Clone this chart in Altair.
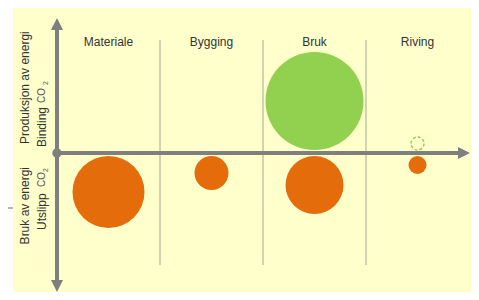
import altair as alt
import pandas as pd

# ---- data ----
kategorier = ["Materiale", "Bygging", "Bruk", "Riving"]
utslipp_radius = [36, 17, 29, 9]          # orange circles (CO2 emission), below axis
binding_kategorier = ["Bruk", "Riving"]
binding_radius = [49, 6.5]                 # green circles (CO2 binding), above axis
binding_stiplet = [False, True]            # Riving is dashed outline only

W, H = 463, 284
GRAY = "#7F7F7F"
ORANGE = "#E46C0A"
GREEN = "#92D050"
YELLOW = "#FFFFCC"
FONT = "Liberation Sans"

utslipp = pd.DataFrame({"kategori": kategorier, "r": utslipp_radius, "type": "Utslipp"})
binding = pd.DataFrame({"kategori": binding_kategorier, "r": binding_radius,
                        "stiplet": binding_stiplet, "type": "Binding"})
kat_df = pd.DataFrame({"kategori": kategorier, "idx": list(range(len(kategorier)))})
one = pd.DataFrame({"a": [0]})

xscale = alt.Scale(type="band", domain=kategorier, range=[49, 461], paddingInner=0, paddingOuter=0)
yscale = alt.Scale(domain=[-(H - 145), 145], nice=False, zero=False)

X = alt.X("kategori:N", scale=xscale, axis=None)

bg = alt.Chart(one).mark_rect(color=YELLOW).encode(
    x=alt.value(5), x2=alt.value(W), y=alt.value(0), y2=alt.value(H))

stray = alt.Chart(one).mark_rule(color="#B4B4B4", strokeWidth=2).encode(
    x=alt.value(0), x2=alt.value(5), y=alt.value(200), y2=alt.value(200))

seps = alt.Chart(kat_df).transform_filter("datum.idx > 0").mark_rule(
    color="#A3A89A", strokeWidth=1).encode(
    x=alt.X("kategori:N", scale=xscale, axis=None, bandPosition=0),
    y=alt.value(32), y2=alt.value(257))

labels = alt.Chart(kat_df).mark_text(font=FONT, fontSize=12, color="#333333").encode(
    x=X, y=alt.value(34), text="kategori:N")

# Vega circle symbol: radius = sqrt(size)/2  ->  size = 4 r^2
orange = alt.Chart(utslipp).transform_calculate(
    yc="-(datum.r + 3)", areal="4 * datum.r * datum.r").mark_circle(
    color=ORANGE, opacity=1).encode(
    x=X, y=alt.Y("yc:Q", scale=yscale, axis=None), size=alt.Size("areal:Q", scale=None))

green_fill = alt.Chart(binding).transform_filter("!datum.stiplet").transform_calculate(
    yc="datum.r + 3", areal="4 * datum.r * datum.r").mark_circle(
    color=GREEN, opacity=1).encode(
    x=X, y=alt.Y("yc:Q", scale=yscale, axis=None), size=alt.Size("areal:Q", scale=None))

green_dash = alt.Chart(binding).transform_filter("datum.stiplet").transform_calculate(
    yc="datum.r + 3", areal="4 * datum.r * datum.r").mark_point(
    shape="circle", filled=False, color=GREEN, strokeWidth=1.5, strokeDash=[3, 2], opacity=1).encode(
    x=X, y=alt.Y("yc:Q", scale=yscale, axis=None), size=alt.Size("areal:Q", scale=None))

vaxis = alt.Chart(one).mark_rule(color=GRAY, strokeWidth=4).encode(
    x=alt.value(49), y=alt.value(16), y2=alt.value(278))
haxis = alt.Chart(one).mark_rule(color=GRAY, strokeWidth=4).encode(
    x=alt.value(49), x2=alt.value(452), y=alt.value(145))

up = alt.Chart(one).mark_point(shape="M-1,1L0,-1L1,1Z", filled=True, size=144, color=GRAY, opacity=1).encode(
    x=alt.value(49), y=alt.value(16))
down = alt.Chart(one).mark_point(shape="M-1,-1L0,1L1,-1Z", filled=True, size=144, color=GRAY, opacity=1).encode(
    x=alt.value(49), y=alt.value(278))
right = alt.Chart(one).mark_point(shape="M-1,-1L1,0L-1,1Z", filled=True, size=144, color=GRAY, opacity=1).encode(
    x=alt.value(456), y=alt.value(145))
origin = alt.Chart(one).mark_circle(color=GRAY, size=90, opacity=1).encode(
    x=alt.value(49), y=alt.value(145))

def rtext(txt, x, y, size, align, color="#333333"):
    return alt.Chart(one).mark_text(
        text=txt, angle=270, align=align, baseline="middle", font=FONT,
        fontSize=size, color=color).encode(x=alt.value(x), y=alt.value(y))

texts = [
    rtext("Produksjon av energi", 17, 136, 12, "left"),
    rtext("Binding", 34, 139, 12, "left"),
    rtext("CO", 34, 95, 10, "left", "#555555"),
    rtext("2", 38, 75, 7, "center", "#555555"),
    rtext("Bruk av energi", 17, 159, 12, "right"),
    rtext("Utslipp", 34, 222, 12, "left"),
    rtext("CO", 34, 179, 10, "left", "#555555"),
    rtext("2", 38, 162, 7, "center", "#555555"),
]

chart = alt.layer(
    bg, stray, seps, labels, orange, green_fill, green_dash,
    vaxis, haxis, up, down, right, origin, *texts
).properties(
    width=W, height=H, padding=0, autosize=alt.AutoSizeParams(type="none"),
    background="white"
).configure_view(stroke=None)

chart.save("out.html", embed_options={"renderer": "svg", "actions": False})
